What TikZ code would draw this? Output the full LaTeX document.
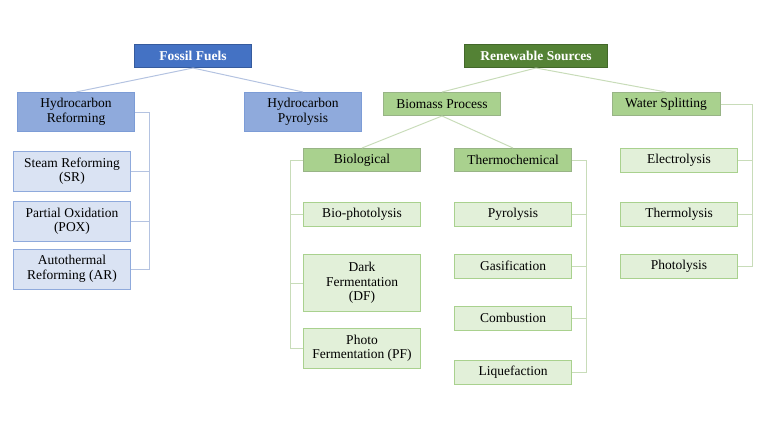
\documentclass[tikz,border=0pt]{standalone}
\usepackage{fontspec}
\setmainfont{Liberation Serif}
\usetikzlibrary{calc}
\definecolor{fossildark}{RGB}{68,114,196}
\definecolor{fossilmid}{RGB}{143,170,220}
\definecolor{fossillight}{RGB}{218,227,243}
\definecolor{renewdark}{RGB}{84,130,53}
\definecolor{renewmid}{RGB}{169,209,142}
\definecolor{renewlight}{RGB}{226,240,217}
\definecolor{fossilline}{RGB}{180,195,225}
\definecolor{renewline}{RGB}{200,220,185}
\tikzset{
  box/.style={draw,line width=1pt,align=center,inner sep=1pt,font=\fontsize{13.5}{14.5}\selectfont},
  topf/.style={box,fill=fossildark,draw=fossildark!80!black,text=white,font=\fontsize{13.5}{14.5}\selectfont\bfseries,minimum width=117pt,minimum height=23pt},
  midf/.style={box,fill=fossilmid,draw=fossildark!70,minimum width=117pt,minimum height=39pt},
  lowf/.style={box,fill=fossillight,draw=fossilmid,minimum width=117pt,minimum height=40pt},
  topr/.style={box,fill=renewdark,draw=renewdark!80!black,text=white,font=\fontsize{13.5}{14.5}\selectfont\bfseries,minimum width=143pt,minimum height=23pt},
  midr/.style={box,fill=renewmid,draw=renewdark!60,minimum width=117pt,minimum height=23pt},
  lowr/.style={box,fill=renewlight,draw=renewmid,minimum width=117pt,minimum height=24pt},
  flink/.style={draw=fossilline,line width=1pt},
  rlink/.style={draw=renewline,line width=1pt}
}
\begin{document}
\begin{tikzpicture}[x=1pt,y=-1pt]
		\useasboundingbox (0,0) rectangle (768,432);
		
		% fossil side
		\node[topf] (ff) at (193,56) {Fossil Fuels};
		\node[midf] (hr) at (76,112) {Hydrocarbon\\Reforming};
		\node[midf] (hp) at (303,112) {Hydrocarbon\\Pyrolysis};
		\node[lowf] (sr) at (72,171) {Steam Reforming\\(SR)};
		\node[lowf] (pox) at (72,221) {Partial Oxidation\\(POX)};
		\node[lowf] (ar) at (72,269) {Autothermal\\Reforming (AR)};
		
		\draw[flink] (ff.south) -- (hr.north);
		\draw[flink] (ff.south) -- (hp.north);
		\coordinate (hrb) at (149,112);
		\draw[flink] (hr.east) -- (hrb) |- (ar.east);
		\draw[flink] (sr.east) -- (sr.east -| hrb);
		\draw[flink] (pox.east) -- (pox.east -| hrb);
		
		% renewable side
		\node[topr] (rs) at (536,56) {Renewable Sources};
		\node[midr] (bp) at (442,104) {Biomass Process};
		\node[midr,minimum width=108pt] (ws) at (666,104) {Water Splitting};
		\node[midr] (bio) at (362,160) {Biological};
		\node[midr] (th) at (513,160) {Thermochemical};
		
		\draw[rlink] (rs.south) -- (bp.north);
		\draw[rlink] (rs.south) -- (ws.north);
		\draw[rlink] (bp.south) -- (bio.north);
		\draw[rlink] (bp.south) -- (th.north);
		
		\node[lowr] (bph) at (362,214) {Bio-photolysis};
		\node[lowr,minimum height=57pt] (df) at (362,283) {Dark\\Fermentation\\(DF)};
		\node[lowr,minimum height=40pt] (pf) at (362,348) {Photo\\Fermentation (PF)};
		
		\node[lowr] (pyr) at (513,214) {Pyrolysis};
		\node[lowr] (gas) at (513,266) {Gasification};
		\node[lowr] (com) at (513,318) {Combustion};
		\node[lowr] (liq) at (513,372) {Liquefaction};
		
		\node[lowr] (el) at (679,160) {Electrolysis};
		\node[lowr] (tl) at (679,214) {Thermolysis};
		\node[lowr] (pl) at (679,266) {Photolysis};
		
		\coordinate (biob) at (290,160);
		\draw[rlink] (bio.west) -- (biob) |- (pf.west);
		\draw[rlink] (bph.west) -- (bph.west -| biob);
		\draw[rlink] (df.west) -- (df.west -| biob);
		
		\coordinate (thb) at (586,160);
		\draw[rlink] (th.east) -- (thb) |- (liq.east);
		\draw[rlink] (pyr.east) -- (pyr.east -| thb);
		\draw[rlink] (gas.east) -- (gas.east -| thb);
		\draw[rlink] (com.east) -- (com.east -| thb);
		
		\coordinate (wsb) at (752,104);
		\draw[rlink] (ws.east) -- (wsb) |- (pl.east);
		\draw[rlink] (el.east) -- (el.east -| wsb);
		\draw[rlink] (tl.east) -- (tl.east -| wsb);
		
\end{tikzpicture}
\end{document}
